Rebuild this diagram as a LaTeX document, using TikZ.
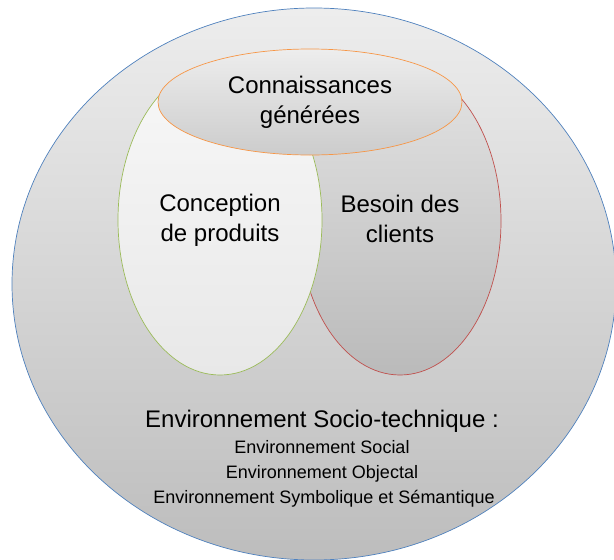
\documentclass[tikz,border=0pt]{standalone}
\usepackage{fontspec}
\setmainfont{Liberation Sans}
\usetikzlibrary{shapes.geometric}
\definecolor{envline}{HTML}{4F81BD}
\definecolor{prodline}{HTML}{9BBB59}
\definecolor{clientline}{HTML}{C0504D}
\definecolor{knowline}{HTML}{F79646}

\begin{document}
\begin{tikzpicture}[x=1pt,y=-1pt]
\tikzstyle{zone}=[ellipse,draw,line width=0.7pt,inner sep=0pt,align=center,font=\fontsize{24}{30}\selectfont]
\tikzstyle{envtext}=[anchor=base,inner sep=0pt,font=\fontsize{18}{25}\selectfont]

\useasboundingbox (0,0) rectangle (614,560);
\node[zone,draw=envline,minimum width=604pt,minimum height=552pt,
  top color=black!7,bottom color=black!26] (env) at (314,284) {};
\node[zone,draw=clientline,minimum width=202pt,minimum height=308pt,
  top color=black!11,bottom color=black!27] (clients) at (400,221)
  {Besoin des\\clients\vphantom{p}};
\node[zone,draw=prodline,minimum width=204pt,minimum height=310pt,
  top color=black!3,bottom color=black!9] (produits) at (220,220)
  {Conception\\de produits};
\node[zone,draw=knowline,minimum width=304pt,minimum height=106pt,
  top color=black!7,bottom color=black!20] (connaissances) at (310,102)
  {Connaissances\\générées};

\node[envtext,font=\fontsize{24}{30}\selectfont] (sociotech) at (322,427)
  {Environnement Socio-technique :};
\node[envtext] (social) at (322,453) {Environnement Social};
\node[envtext] (objectal) at (322,478) {Environnement Objectal};
\node[envtext] (symbolique) at (324,503) {Environnement Symbolique et Sémantique};
\end{tikzpicture}
\end{document}
